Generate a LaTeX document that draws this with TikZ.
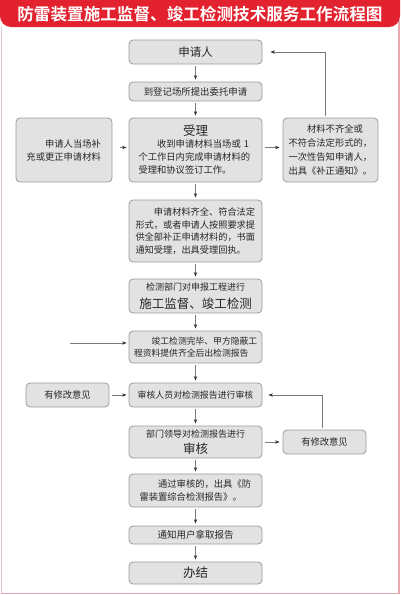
\documentclass[tikz,border=0pt]{standalone}
\usepackage{fontspec}
\setmainfont{Noto Sans CJK SC}[BoldFont={Noto Sans CJK SC Bold}]
\usetikzlibrary{arrows.meta}
\definecolor{titlered}{HTML}{E2232F}
\definecolor{boxfill}{HTML}{E2E2E2}
\definecolor{boxline}{HTML}{9C9C9C}
\definecolor{txt}{HTML}{262626}
\definecolor{arr}{HTML}{7A7A7A}
\definecolor{framel}{HTML}{D9C6C8}
\definecolor{framer}{HTML}{E9A9B1}
\newcommand{\fs}[2]{\fontsize{#1}{#2}\selectfont}
\begin{document}
\begin{tikzpicture}[x=1pt,y=-1pt,
  box/.style={draw=boxline, line width=0.8pt, fill=boxfill, rounded corners=4pt,
    inner sep=0pt, text=txt, font=\fs{9.3}{13}, align=left},
  mainbox/.style={box, minimum width=133pt},
  flow/.style={draw=arr, line width=0.7pt,
    -{Stealth[length=4.5pt,width=3.4pt,color=black!80]},
    shorten >=2pt, shorten <=2pt},
]
\useasboundingbox (0,0) rectangle (400,595);

% frame
\draw[framel, line width=0.8pt] (1,27) -- (1,593.8);
\draw[framer, line width=0.8pt] (1,593.8) -- (399,593.8);
\draw[framer, line width=2pt] (398.5,20) -- (398.5,594.2);

% title bar
\fill[titlered] (0,0) -- (400,0) [rounded corners=11pt] -- (400,27) -- (0,27) [sharp corners] -- cycle;
\node[text=white, font=\bfseries\fs{16.6}{18}] (title) at (200,14.5) {防雷装置施工监督、竣工检测技术服务工作流程图};

% main column
\node[mainbox, minimum height=24pt, font=\fs{11.5}{14}] (n1) at (195.5,52) {申请人};
\node[mainbox, minimum height=19pt, font=\fs{9.4}{12}] (n2) at (195.5,91.5) {到登记场所提出委托申请};
\node[mainbox, minimum height=64pt, text width=114pt] (n3) at (195.5,150)
  {\makebox[114pt]{\fs{12.5}{14}受理}\\[-1pt]
   \hspace*{2em}收到申请材料当场或 1\\个工作日内完成申请材料的\\受理和协议签订工作。};
\node[box, minimum width=96pt, minimum height=64pt, text width=75pt] (L1) at (64,150)
  {\hspace*{2em}申请人当场补\\充或更正申请材料};
\node[box, minimum width=95pt, minimum height=64pt, text width=84pt, font=\fs{9.3}{14}] (R1) at (330.5,150)
  {\hspace*{2em}材料不齐全或\\不符合法定形式的，\\一次性告知申请人，\\出具《补正通知》。};
\node[mainbox, minimum height=62pt, text width=120pt, font=\fs{9.2}{12.8}] (n4) at (195.5,231)
  {\hspace*{2em}申请材料齐全、符合法定\\形式，或者申请人按照要求提\\供全部补正申请材料的，书面\\通知受理，出具受理回执。};
\node[mainbox, minimum height=34pt, align=center, font=\fs{12.5}{15}] (n5) at (195.5,296)
  {{\fs{9}{12}检测部门对申报工程进行}\\[2.5pt]施工监督、竣工检测};
\node[mainbox, minimum height=32pt, text width=123pt, font=\fs{8.8}{12.5}] (n6) at (195.5,347)
  {\hspace*{2em}竣工检测完毕、甲方隐蔽工\\程资料提供齐全后出检测报告};
\node[mainbox, minimum height=24pt, font=\fs{8.9}{12}] (n7) at (195.5,395) {审核人员对检测报告进行审核};
\node[box, minimum width=83pt, minimum height=24pt] (L2) at (67.5,395) {有修改意见};
\node[mainbox, minimum height=32pt, align=center, font=\fs{12.5}{15}] (n8) at (195.5,442)
  {{\fs{9}{12}部门领导对检测报告进行}\\[1pt]审核};
\node[box, minimum width=83pt, minimum height=24pt] (R2) at (324.5,442) {有修改意见};
\node[mainbox, minimum height=33pt, text width=112pt, font=\fs{9.3}{13}] (n9) at (195.5,490.5)
  {\hspace*{2em}通过审核的，出具《防\\雷装置综合检测报告》。};
\node[mainbox, minimum height=18pt, font=\fs{9.5}{12}] (n10) at (195.5,535) {通知用户拿取报告};
\node[mainbox, minimum height=22pt, font=\fs{12.5}{14}] (n11) at (195.5,573) {办结};

% vertical flow
\draw[flow] (n1) -- (n2);
\draw[flow] (n2) -- (n3);
\draw[flow] (n3) -- (n4);
\draw[flow] (n4) -- (n5);
\draw[flow] (n5) -- (n6);
\draw[flow] (n6) -- (n7);
\draw[flow] (n7) -- (n8);
\draw[flow] (n8) -- (n9);
\draw[flow] (n9) -- (n10);
\draw[flow] (n10) -- (n11);

% side arrows
\draw[flow, shorten <=8pt] ([yshift=2.5pt]L1.east) -- ([yshift=2.5pt]n3.west);
\draw[flow, shorten <=3pt, shorten >=3pt] ([yshift=2.5pt]n3.east) -- ([yshift=2.5pt]R1.west);
\draw[flow, shorten >=8pt] ([xshift=-5.5pt]R1.north) |- (n1.east);

\coordinate (lstart) at (68,343);
\draw[flow] (lstart) -- (lstart -| n6.west);

\draw[flow, shorten <=3pt] (L2.east) -- (n7.west);
\draw[flow, shorten <=3pt, shorten >=3pt] (n8.east) -- (R2.west);
\draw[flow, shorten >=6pt] ([xshift=-2.5pt]R2.north) |- (n7.east);
\end{tikzpicture}
\end{document}
